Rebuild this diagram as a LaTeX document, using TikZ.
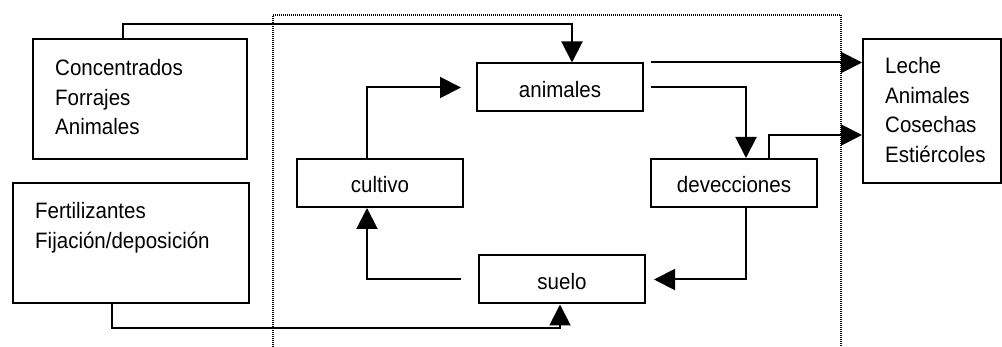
\documentclass[tikz,border=0pt]{standalone}
\usepackage{fontspec}
\setmainfont{Liberation Sans}[FakeStretch=0.92]
\usetikzlibrary{arrows.meta}
\begin{document}
\begin{tikzpicture}[x=1pt,y=-1pt,
  every node/.style={font=\fontsize{22.3}{29.5}\selectfont},
  box/.style={draw, line width=2pt, inner sep=0pt, minimum width=166pt, minimum height=48pt,
              text height=20pt, text depth=0pt},
  bigbox/.style={draw, line width=2pt, inner sep=0pt},
  txt/.style={inner sep=0pt, align=left, anchor=base west},
  flow/.style={line width=2pt, -{Triangle[length=21pt,width=21pt]}},
  border/.style={line width=2pt, dash pattern=on 1pt off 1pt}]
\useasboundingbox (0,0) rectangle (1002,347);

% system boundary
\draw[border] (273,347) -- (273,15) -- (841,15) -- (841,347);

% external inputs and outputs (text nodes are placed by the baseline of their last line)
\node[bigbox, minimum width=214pt, minimum height=120pt] (conc) at (140,99) {};
\node[txt] (conct) at (55,135) {Concentrados\\Forrajes\\Animales};
\node[bigbox, minimum width=236pt, minimum height=120pt] (fert) at (131,243) {};
\node[txt] (fertt) at (35,248.5) {Fertilizantes\\Fijación/deposición};
\node[bigbox, minimum width=138pt, minimum height=144pt] (out) at (932,111) {};
\node[txt] (outt) at (885,162.5) {Leche\\Animales\\Cosechas\\Estiércoles};

% internal compartments
\node[box] (anim) at (560,87.5) {animales};
\node[box] (cult) at (380,183) {cultivo};
\node[box] (devec) at (734,183) {devecciones};
\node[box] (suelo) at (562,279.5) {suelo};

% flows
\draw[flow] (conc.north -| 123,0) |- (572,24) -- (anim.north -| 572,0);
\draw[flow] (fert.south -| 112,0) |- (560,328) -- (suelo.south -| 560,0);
\draw[flow] (cult.north -| 367,0) |- ([xshift=-15pt]anim.west);
\draw[flow] ([xshift=-17pt]suelo.west) -| (cult.south -| 367,0);
\draw[flow] ([xshift=7pt]anim.north east) -- (out.west |- anim.north);
\draw[flow] ([xshift=7pt]anim.east) -| (devec.north -| 746,0);
\draw[flow] (devec.north -| 769,0) |- (out.west |- 0,135);
\draw[flow] (devec.south -| 746,0) |- ([xshift=8pt]suelo.east);
\end{tikzpicture}
\end{document}
